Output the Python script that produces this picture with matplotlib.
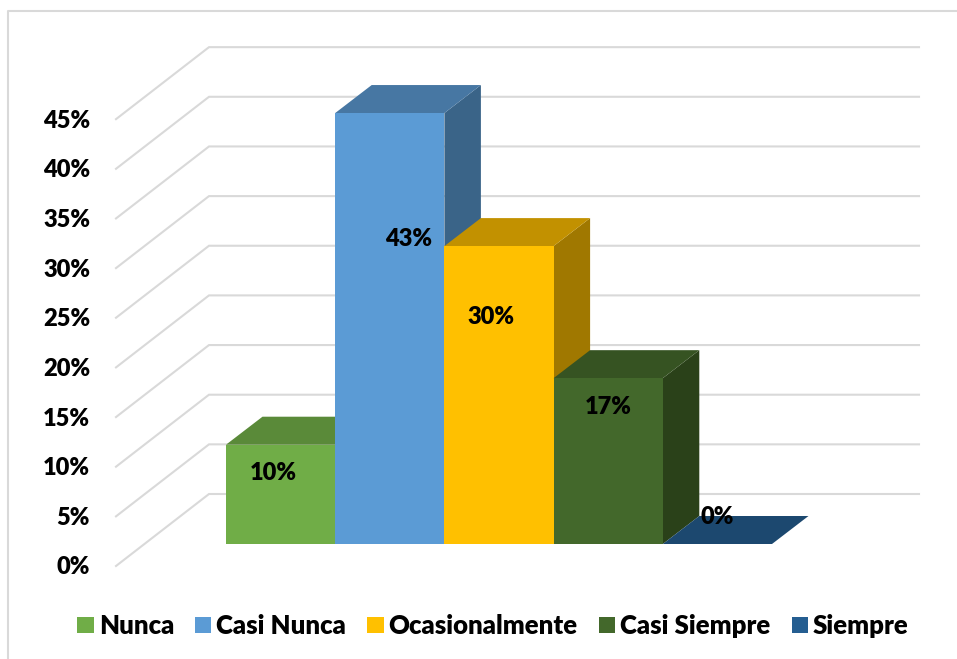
import matplotlib
matplotlib.use("Agg")
import matplotlib.pyplot as plt
from matplotlib.patches import Patch, Polygon

# Lato has a real bold face here and is close to the original font
plt.rcParams['font.family'] = ['Lato', 'DejaVu Sans']

# --- data ---
categories = ["Nunca", "Casi Nunca", "Ocasionalmente", "Casi Siempre", "Siempre"]
values = [10, 43.4, 30, 16.7, 0]
value_labels = ["10%", "43%", "30%", "17%", "0%"]
y_ticks = [0, 5, 10, 15, 20, 25, 30, 35, 40, 45]

# --- colours ---
front_colors = ["#70AD47", "#5B9BD5", "#FFC000", "#43682B", "#255E91"]
top_colors = ["#5A8A39", "#4777A3", "#C29100", "#365322", "#1C486F"]
side_colors = ["#43682B", "#3A6488", "#A07800", "#2A4119", "#163A5A"]
grid_color = "#D9D9D9"

# --- layout: 109.2 px per category, 9.93 px per percent ---
W, H = 957, 659
px_x = 109.2
px_y = 9.93
x0_px = 226
y0_px = 544
bar_dx, bar_dy = 36.5 / px_x, 28 / px_y      # bar depth
wall_x = (116 - x0_px) / px_x                # front end of the wall lines
wall_y = (y0_px - 566) / px_y
corner_x = (209 - x0_px) / px_x              # back corner
corner_y = (y0_px - 494) / px_y
right_x = (919 - x0_px) / px_x
# label offsets per bar (x in categories, y in percent)
label_x = [0.43, 1.67, 2.43, 3.5, 4.5]
label_y = [7.1, 30.7, 22.9, 13.8, 2.75]

fig = plt.figure(figsize=(W / 100, H / 100), dpi=100)
ax = fig.add_axes([0, 0, 1, 1])
ax.set_xlim(-x0_px / px_x, (W - x0_px) / px_x)
ax.set_ylim((y0_px - H) / px_y, y0_px / px_y)
ax.axis("off")

# outer frame
ax.plot([(7.5 - x0_px) / px_x, (7.5 - x0_px) / px_x, (W - x0_px) / px_x],
        [(y0_px - H) / px_y, (y0_px - 10.5) / px_y, (y0_px - 10.5) / px_y],
        color=grid_color, lw=1.5, zorder=1)

# walls and tick labels
for t in y_ticks:
    ax.plot([wall_x, corner_x, right_x],
            [wall_y + t, corner_y + t, corner_y + t],
            color=grid_color, lw=1.5, zorder=1, solid_joinstyle="miter")
    ax.text((90 - x0_px) / px_x, wall_y + t - 0.15, f"{t}%", ha="right", va="center",
            fontsize=17, fontweight="heavy", color="black", zorder=5)

# bars, left to right so each one hides the side of the previous one
for i, v in enumerate(values):
    front = [(i, 0), (i + 1, 0), (i + 1, v), (i, v)]
    top = [(i, v), (i + 1, v), (i + 1 + bar_dx, v + bar_dy), (i + bar_dx, v + bar_dy)]
    side = [(i + 1, 0), (i + 1 + bar_dx, bar_dy), (i + 1 + bar_dx, v + bar_dy), (i + 1, v)]
    z = 2 + i * 0.1
    ax.add_patch(Polygon(side, closed=True, fc=side_colors[i], ec="none", zorder=z))
    ax.add_patch(Polygon(top, closed=True, fc=top_colors[i], ec="none", zorder=z))
    ax.bar(i + 0.5, v, width=1, color=front_colors[i], zorder=z)

for i in range(len(values)):
    ax.text(label_x[i], label_y[i], value_labels[i], ha="center", va="center",
            fontsize=17, fontweight="heavy", color="black", zorder=6)

# legend
handles = [Patch(fc=c, ec="none") for c in front_colors]
ax.legend(handles, categories, ncol=5, frameon=False, loc="center",
          bbox_to_anchor=(493 / W, 1 - 626 / H), bbox_transform=fig.transFigure,
          prop={"size": 18.5, "weight": "heavy"},
          handlelength=0.63, handleheight=0.63, handletextpad=0.2,
          columnspacing=0.82, borderpad=0)

fig.savefig("out.png", dpi=100)
